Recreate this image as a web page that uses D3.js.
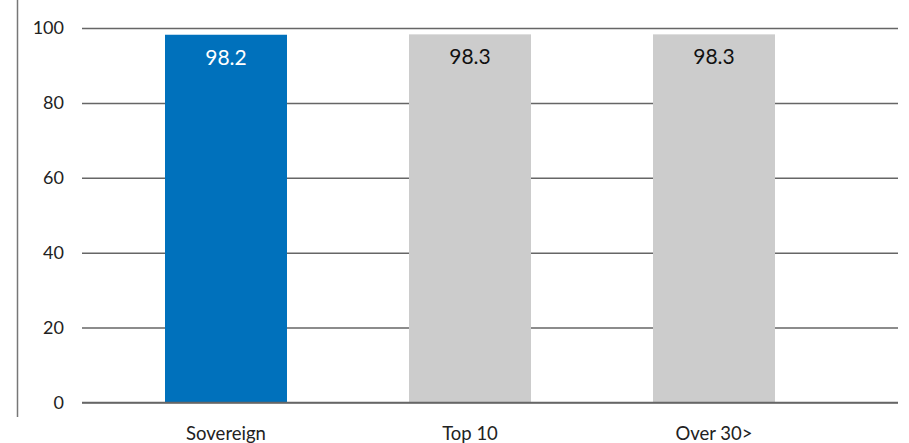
<!DOCTYPE html>
<html lang="en">
<head>
    <meta charset="UTF-8">
    <title>Bar chart</title>
    <script src="https://cdn.jsdelivr.net/npm/d3@7"></script>
    <style>
        body { margin: 0; background: #fff; }
        text { font-family: "Lato", sans-serif; }
    </style>
</head>
<body>
<script>
    // data
    const categories = ["Sovereign", "Top 10", "Over 30>"];
    const values = [98.2, 98.3, 98.3];
    const barColors = ["#0071bc", "#cccccc", "#cccccc"];
    const labelColors = ["#ffffff", "#111111", "#111111"];
    const yTicks = [0, 20, 40, 60, 80, 100];

    const width = 909, height = 443;

    const svg = d3.select("body").append("svg")
        .attr("width", width)
        .attr("height", height);

    const y = d3.scaleLinear().domain([0, 100]).range([402.5, 28]);
    const x = d3.scaleBand().domain(categories).range([104, 836])
        .paddingInner(0.5).paddingOuter(0.25);

    // left rule
    svg.append("line")
        .attr("x1", 17.5).attr("x2", 17.5)
        .attr("y1", 0).attr("y2", 417)
        .attr("stroke", "#777").attr("stroke-width", 1.5);

    // gridlines + tick labels (behind bars)
    const grid = svg.append("g").attr("transform", "translate(82,0)")
        .call(d3.axisLeft(y).tickValues(yTicks).tickSize(-816).tickPadding(18));
    grid.select(".domain").remove();
    grid.selectAll(".tick line").attr("stroke", "#666").attr("stroke-width", 1.5);
    grid.selectAll(".tick text")
        .attr("fill", "#222")
        .style("font-size", "18px");

    // bars
    svg.append("g").selectAll("rect")
        .data(values)
        .join("rect")
        .attr("x", (d, i) => x(categories[i]))
        .attr("y", d => y(d))
        .attr("width", x.bandwidth())
        .attr("height", d => y(0) - y(d))
        .attr("fill", (d, i) => barColors[i]);

    // baseline drawn over the bars
    svg.append("line")
        .attr("x1", 82).attr("x2", 898)
        .attr("y1", y(0)).attr("y2", y(0))
        .attr("stroke", "#666").attr("stroke-width", 1.5);

    // value labels
    svg.append("g").selectAll("text")
        .data(values)
        .join("text")
        .attr("x", (d, i) => x(categories[i]) + x.bandwidth() / 2)
        .attr("y", d => y(d) + 30)
        .attr("text-anchor", "middle")
        .attr("fill", (d, i) => labelColors[i])
        .style("font-size", "21px")
        .text(d => d.toFixed(1));

    // category labels
    svg.append("g").selectAll("text")
        .data(categories)
        .join("text")
        .attr("x", d => x(d) + x.bandwidth() / 2)
        .attr("y", 440)
        .attr("text-anchor", "middle")
        .attr("fill", "#222")
        .style("font-size", "18.5px")
        .text(d => d);
</script>
</body>
</html>
